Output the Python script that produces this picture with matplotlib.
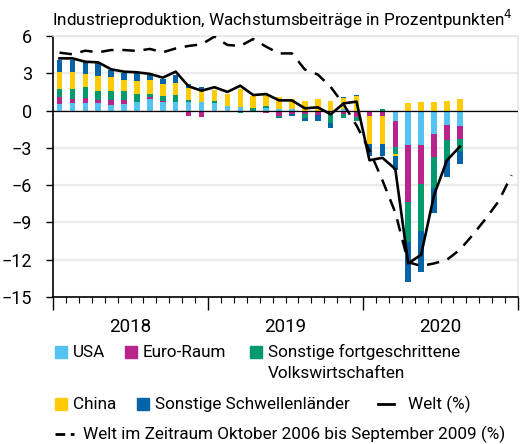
import matplotlib
matplotlib.use("Agg")
import matplotlib.pyplot as plt
import numpy as np
from matplotlib.patches import Rectangle
from matplotlib.lines import Line2D

plt.rcParams["font.family"] = ["Roboto", "DejaVu Sans"]

# monthly contributions Jan 2018 - Aug 2020, percentage points
usa = [0.54, 0.62, 0.62, 0.62, 0.48, 0.54, 0.67, 0.9, 0.67, 0.67, 0.67, 0.67,
       0.64, 0.4, 0.32, 0.0, 0.2, 0.1, 0.13, 0.0, 0.0, -0.2, 0.1, 0.0,
       -0.1, 0.0, -0.8, -2.8, -2.75, -1.88, -1.2, -1.26]
euro = [0.54, 0.32, 0.4, 0.27, 0.38, 0.35, 0.05, 0.19, 0.1, 0.0, -0.4, -0.54,
        -0.1, 0.0, 0.0, -0.15, -0.2, -0.45, -0.27, -0.27, -0.32, -0.1, -0.25, -0.48,
        -0.35, -0.4, -2.15, -4.56, -3.16, -1.82, -1.15, -1.02]
other_adv = [0.67, 0.8, 0.91, 0.72, 0.7, 0.67, 0.6, 0.25, 0.4, 0.62, 0.2, 0.0,
             0.1, -0.15, -0.2, 0.2, 0.2, -0.1, 0.0, -0.32, 0.0, -0.72, -0.35, -0.37,
             0.0, 0.1, -0.54, -3.22, -3.8, -2.52, -1.66, -0.94]
china = [1.34, 1.4, 1.02, 1.15, 1.13, 0.94, 1.05, 1.1, 1.0, 0.91, 0.94, 1.0,
         0.9, 0.94, 1.4, 1.0, 0.88, 1.0, 0.83, 0.75, 0.94, 0.75, 0.9, 1.15,
         -2.2, -2.28, -0.2, 0.6, 0.72, 0.72, 0.8, 0.94]
em = [0.94, 0.94, 0.94, 1.13, 0.59, 0.54, 0.7, 0.46, 0.35, 0.67, 0.32, 0.2,
      0.0, 0.0, 0.0, 0.0, 0.0, -0.05, -0.13, -0.27, -0.48, -0.4, 0.1, 0.1,
      -1.0, -0.94, -1.13, -3.22, -3.3, -2.04, -1.34, -1.07]

# world growth (%), and the same for Oct 2006 - Sep 2009
welt = [4.2, 4.2, 3.93, 3.88, 3.32, 3.13, 3.08, 2.95, 2.65, 3.13, 1.95, 1.6,
        1.88, 1.5, 2.0, 1.25, 1.33, 0.82, 0.82, 0.18, 0.26, -0.3, 0.58, 0.72,
        -4.0, -3.8, -4.7, -12.3, -11.6, -6.8, -4.0, -2.9]
welt_gfc = [4.66, 4.53, 4.82, 4.69, 4.87, 4.87, 4.8, 4.96, 4.69, 5.0, 5.2, 5.33,
            5.95, 5.28, 5.2, 5.76, 5.14, 4.6, 4.6, 3.3, 2.9, 1.9, 0.5, -1.2,
            -3.2, -5.6, -8.2, -12.2, -12.5, -12.3, -12.0, -11.2, -10.0, -8.7, -7.3, -5.2]

years = ["2018", "2019", "2020"]
series = [("USA", usa, "#55C3EF"),
          ("Euro-Raum", euro, "#B8238C"),
          ("Sonstige fortgeschrittene\nVolkswirtschaften", other_adv, "#009A6E"),
          ("China", china, "#FFCB05"),
          ("Sonstige Schwellenländer", em, "#0563A8")]

fs = 12.3

fig = plt.figure(figsize=(5.27, 4.44), dpi=100)
ax = fig.add_axes([53 / 527, 1 - 297 / 444, 465 / 527, 261 / 444])

x = np.arange(len(usa)) + 0.5
pos = np.zeros(len(usa))
neg = np.zeros(len(usa))
for name, vals, col in series:
    v = np.array(vals)
    p = np.where(v > 0, v, 0)
    n = np.where(v < 0, v, 0)
    ax.bar(x, p, bottom=pos, width=0.42, color=col, linewidth=0, zorder=2)
    ax.bar(x, n, bottom=neg, width=0.42, color=col, linewidth=0, zorder=2)
    pos += p
    neg += n

ax.axhline(0, color="black", linewidth=0.9, zorder=3)
ax.plot(np.arange(len(welt_gfc)) + 0.5, welt_gfc, color="black", linewidth=1.8,
        dashes=(5, 3.5), zorder=4)
ax.plot(x, welt, color="black", linewidth=1.9, zorder=5)

ax.set_xlim(0, 36)
ax.set_ylim(-15, 6)
ax.set_yticks(np.arange(-15, 7, 3))
ax.yaxis.grid(True, color="#EBEBEB", linewidth=1.6, zorder=0)
ax.set_axisbelow(True)
ax.set_xticks([0, 12, 24, 36], labels=["", "", "", ""])
ax.set_xticks(np.arange(37), minor=True)
ax.tick_params(axis="x", which="major", length=9, width=1, direction="out")
ax.tick_params(axis="x", which="minor", length=4.5, width=0.8, direction="out")
ax.tick_params(axis="y", length=5, width=1, labelsize=13, pad=10)
for i, yr in enumerate(years):
    ax.annotate(yr, (6 + 12 * i, 0), xycoords=("data", "axes fraction"),
                xytext=(0, -15), textcoords="offset points",
                ha="center", va="top", fontsize=13.5)

for s in ["top", "right"]:
    ax.spines[s].set_color("#E6E6E6")
    ax.spines[s].set_linewidth(1.2)
for s in ["left", "bottom"]:
    ax.spines[s].set_linewidth(1.2)

fig.text(52 / 527, 1 - 19 / 444, "Industrieproduktion, Wachstumsbeiträge in Prozentpunkten$^4$",
         ha="left", va="center", fontsize=12.3)

# legend, drawn by hand
def box(xp, yp, col):
    fig.add_artist(Rectangle((xp / 527, 1 - (yp + 6) / 444), 12 / 527, 12 / 444,
                             color=col, transform=fig.transFigure))

leg = [(55, 352, 0), (125, 352, 1), (250, 352, 2), (55, 404, 3), (137, 404, 4)]
for xp, yp, k in leg:
    name, _, col = series[k]
    box(xp, yp, col)
    fig.text((xp + 18) / 527, 1 - yp / 444, name.split("\n")[0],
             ha="left", va="center", fontsize=fs)
    if "\n" in name:
        fig.text((xp + 18) / 527, 1 - (yp + 21) / 444, name.split("\n")[1],
                 ha="left", va="center", fontsize=fs)

fig.add_artist(Line2D([378 / 527, 394 / 527], [1 - 404 / 444] * 2, color="black",
                      linewidth=2, transform=fig.transFigure))
fig.text(408 / 527, 1 - 404 / 444, "Welt (%)", ha="left", va="center", fontsize=fs)
fig.add_artist(Line2D([55 / 527, 74 / 527], [1 - 434 / 444] * 2, color="black",
                      linewidth=2, dashes=(3.5, 2), transform=fig.transFigure))
fig.text(83 / 527, 1 - 434 / 444, "Welt im Zeitraum Oktober 2006 bis September 2009 (%)",
         ha="left", va="center", fontsize=fs)

fig.savefig("out.png", dpi=100)
